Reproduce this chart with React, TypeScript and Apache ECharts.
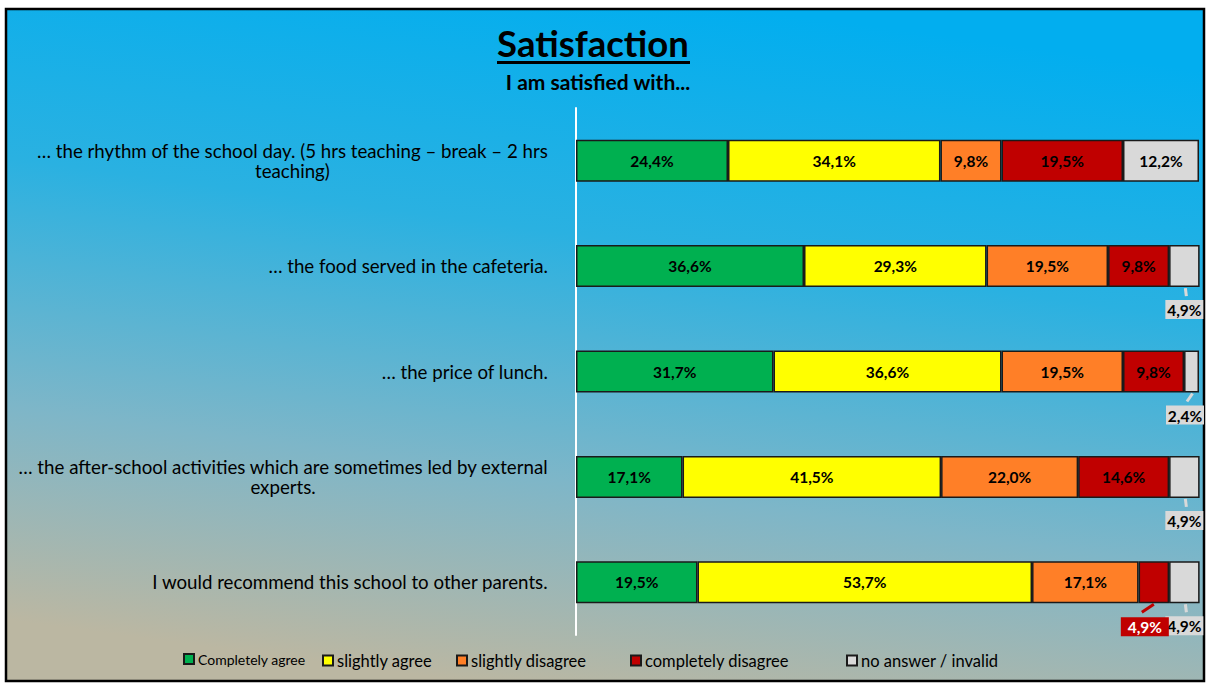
import React, { useEffect, useRef } from 'react';
import * as echarts from 'echarts';

const categories = [
  '… the rhythm of the school day. (5 hrs teaching – break – 2 hrs\nteaching)',
  '… the food served in the cafeteria.',
  '… the price of lunch.',
  '… the after-school activities which are sometimes led by external\nexperts.',
  'I would recommend this school to other parents.',
];
const seriesNames = [
  'Completely agree',
  'slightly agree',
  'slightly disagree',
  'completely disagree',
  'no answer / invalid',
];
const completelyAgree = [24.4, 36.6, 31.7, 17.1, 19.5];
const slightlyAgree = [34.1, 29.3, 36.6, 41.5, 53.7];
const slightlyDisagree = [9.8, 19.5, 19.5, 22.0, 17.1];
const completelyDisagree = [19.5, 9.8, 9.8, 14.6, 4.9];
const noAnswer = [12.2, 4.9, 2.4, 4.9, 4.9];

const allValues = [completelyAgree, slightlyAgree, slightlyDisagree, completelyDisagree, noAnswer];
const seriesColors = ['#00B050', '#FFFF00', '#FF7F27', '#C00000', '#D9D9D9'];
const legendLeft = [183, 322, 456, 630, 846];
const FONT = 'Lato';
const SMALL = 8; // segments narrower than this get their label outside

const fmt = (v: number) => v.toFixed(1).replace('.', ',') + '%';

export default function App() {
  const ref = useRef<HTMLDivElement>(null);
  useEffect(() => {
    if (!ref.current) return;
    const chart = echarts.init(ref.current, null, { renderer: 'svg' });

    const barSeries = allValues.map((vals, si) => ({
      type: 'bar',
      name: seriesNames[si],
      stack: 'total',
      barWidth: 42,
      z: 3,
      itemStyle: { color: seriesColors[si], borderColor: '#1a1a1a', borderWidth: 1.5 },
      label: {
        show: true,
        position: 'inside',
        formatter: (p: any) => fmt(p.value),
        fontFamily: FONT,
        fontWeight: 'bold',
        fontSize: 15.5,
        color: '#000',
      },
      data: vals.map((v) => (v < SMALL ? { value: v, label: { show: false } } : v)),
    }));

    // outside labels for small segments (gray first so the red box lies on top)
    const outsideData: number[][] = [];
    for (let si = allValues.length - 1; si >= 0; si--) {
      allValues[si].forEach((v, ci) => {
        if (v >= SMALL) return;
        let start = 0;
        for (let k = 0; k < si; k++) start += allValues[k][ci];
        outsideData.push([start, start + v, ci, v, si]);
      });
    }

    const outsideSeries = {
      type: 'custom',
      silent: true,
      z: 6,
      clip: false,
      encode: { x: [0, 1], y: 2 },
      data: outsideData,
      renderItem: (params: any, api: any) => {
        const s = api.value(0);
        const e = api.value(1);
        const ci = api.value(2);
        const v = api.value(3);
        const si = api.value(4);
        const a = api.coord([s, ci]);
        const b = api.coord([e, ci]);
        const cx = (a[0] + b[0]) / 2;
        const bottom = a[1] + 21;
        const red = si === 3;
        const w = red ? 48 : 38;
        const h = 19;
        const rightLimit = params.coordSys.x + params.coordSys.width + 5;
        const lx = red ? cx - 9 : Math.min(cx, rightLimit - w / 2);
        const top = bottom + (red ? 14 : 13);
        const color = red ? '#C00000' : '#D9D9D9';
        return {
          type: 'group',
          children: [
            {
              type: 'line',
              shape: red
                ? { x1: cx, y1: bottom + 1, x2: cx - 12, y2: bottom + 9 }
                : { x1: cx + 1, y1: bottom + 1, x2: lx + 2, y2: top - 4 },
              style: { stroke: color, lineWidth: 3 },
            },
            {
              type: 'rect',
              shape: { x: lx - w / 2, y: top, width: w, height: h },
              style: { fill: color },
            },
            {
              type: 'text',
              x: lx,
              y: top + h / 2 + 0.5,
              style: {
                text: fmt(v),
                textAlign: 'center',
                textVerticalAlign: 'middle',
                font: `bold 15.5px ${FONT}`,
                fill: red ? '#ffffff' : '#000000',
              },
            },
          ],
        };
      },
    };

    const legends = seriesNames.map((n, i) => ({
      data: [n],
      left: legendLeft[i],
      top: 652,
      padding: 0,
      icon: 'rect',
      itemWidth: 10,
      itemHeight: 10,
      itemGap: 4,
      selectedMode: false,
      textStyle: { fontFamily: FONT, fontSize: i === 0 ? 14 : 16.5, color: '#000', padding: [0, 0, 0, -1] },
    }));

    chart.setOption({
      animation: false,
      backgroundColor: 'transparent',
      graphic: [
        {
          type: 'rect',
          z: -10,
          silent: true,
          shape: { x: 6, y: 9, width: 1198, height: 672 },
          style: {
            fill: new echarts.graphic.LinearGradient(0.62, 0, 0.38, 1, [
              { offset: 0, color: '#02AEEF' },
              { offset: 0.35, color: '#2AB1E1' },
              { offset: 0.7, color: '#7EB6C8' },
              { offset: 1, color: '#BBB7A2' },
            ]),
            stroke: '#000',
            lineWidth: 2.5,
          },
        },
        {
          type: 'text',
          x: 593,
          y: 43,
          style: {
            text: 'Satisfaction',
            font: `bold 36.5px ${FONT}`,
            fill: '#000',
            textAlign: 'center',
            textVerticalAlign: 'middle',
          },
        },
        {
          type: 'rect',
          shape: { x: 497, y: 61, width: 193, height: 3 },
          style: { fill: '#000' },
        },
        {
          type: 'text',
          x: 598,
          y: 81,
          style: {
            text: 'I am satisfied with...',
            font: `bold 21px ${FONT}`,
            fill: '#000',
            textAlign: 'center',
            textVerticalAlign: 'middle',
          },
        },
      ],
      legend: legends,
      grid: { left: 576, right: 9, top: 108, bottom: 48, containLabel: false },
      xAxis: {
        type: 'value',
        min: 0,
        max: 100,
        show: false,
      },
      yAxis: {
        type: 'category',
        data: categories,
        inverse: true,
        axisLine: { show: true, lineStyle: { color: '#ffffff', width: 2 } },
        axisTick: { show: false },
        splitLine: { show: false },
        axisLabel: {
          interval: 0,
          margin: 28,
          fontFamily: FONT,
          fontSize: 18.7,
          color: '#000',
          formatter: (v: string) => v.split('\n').map((s) => `{c|${s}}`).join('\n'),
          rich: {
            c: { align: 'center', fontFamily: FONT, fontSize: 18.7, color: '#000', lineHeight: 20 },
          },
        },
      },
      series: [...barSeries, outsideSeries],
    });
    return () => chart.dispose();
  }, []);
  return (
    <div
      ref={ref}
      style={{ position: 'absolute', left: 0, top: 0, width: 1208, height: 683, background: '#fff' }}
    />
  );
}
